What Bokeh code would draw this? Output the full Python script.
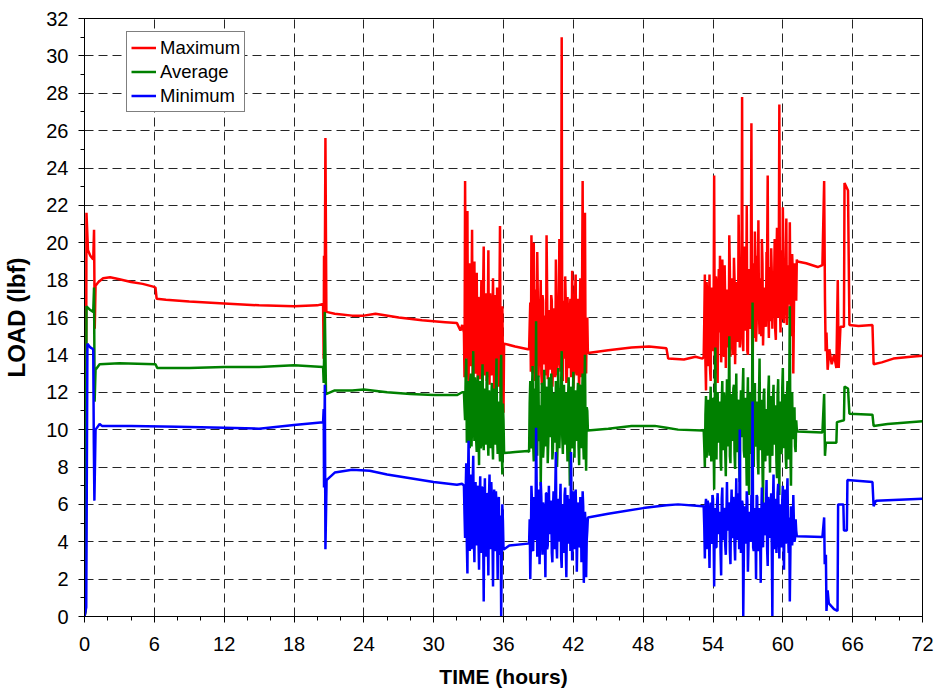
import numpy as np
from bokeh.plotting import figure
from bokeh.models import Range1d, FixedTicker
from bokeh.embed import file_html
from bokeh.resources import INLINE

# ---------------- data (hours, lbf) ----------------
TIME_TICKS = list(range(0, 73, 6))
TIME_MINOR = list(range(0, 73, 2))
LOAD_TICKS = list(range(0, 33, 2))
LOAD_MINOR = list(range(0, 33, 1))

# steady (slowly varying) parts of each record
max_steady_t = [0.0, 0.1, 0.17, 0.3, 0.5, 0.75, 0.82, 0.88, 0.95, 1.2, 1.6, 2.2, 3.0, 4.0, 5.0, 5.9, 6.1, 6.2, 7.0, 9.0,
                12.0, 15.0, 18.0, 20.0, 20.5, 20.55, 20.58, 20.62, 20.7, 20.78, 21.5, 23.0, 24.0, 25.0, 27.0, 29.0,
                31.0, 32.0, 32.3, 32.45,
                36.05, 37.0, 38.1,
                43.25, 45.0, 47.0, 48.5, 50.0, 50.15, 51.5, 52.5, 53.1,
                61.25, 62.0, 63.0, 63.4, 63.55, 63.62, 63.68, 63.75, 63.85, 64.0, 64.2, 64.4, 64.6, 64.72, 64.8,
                64.95, 65.25, 65.3, 65.6, 65.72, 66.5, 67.7, 67.8, 68.5, 69.5, 71.0, 72.0]
max_steady_v = [0.0, 0.4, 21.6, 19.6, 19.3, 19.1, 20.7, 15.4, 17.7, 17.9, 18.1, 18.15, 18.05, 17.9, 17.8, 17.65, 17.6,
                17.0, 16.95, 16.85, 16.75, 16.65, 16.6, 16.65, 16.72, 13.8, 19.3, 14.5, 25.6, 16.3, 16.2, 16.1, 16.1,
                16.2, 16.0, 15.85, 15.75, 15.7, 15.3, 15.6,
                14.6, 14.45, 14.3,
                14.1, 14.25, 14.4, 14.45, 14.35, 13.8, 13.75, 13.9, 13.8,
                19.0, 18.9, 18.7, 18.8, 23.3, 17.0, 14.2, 15.2, 13.2, 14.3, 13.5, 14.0, 13.3, 18.0, 13.3,
                15.5, 15.5, 23.2, 22.8, 15.6, 15.55, 15.6, 13.5, 13.6, 13.8, 13.9, 13.95]

avg_steady_t = [0.0, 0.1, 0.17, 0.5, 0.75, 0.82, 0.87, 0.95, 1.3, 3.0, 6.1, 6.25, 9.0, 12.0, 15.0, 18.0, 20.5,
                20.55, 20.65, 20.75, 21.5, 23.0, 24.0, 26.0, 28.0, 30.0, 32.0, 32.45,
                36.05, 37.0, 38.1,
                43.25, 45.0, 47.0, 49.0, 50.0, 51.0, 53.1,
                61.25, 63.4, 63.55, 63.62, 63.7, 64.6, 64.65, 65.25, 65.3, 65.6, 65.72, 67.7, 67.8, 69.0, 72.0]
avg_steady_v = [0.0, 0.3, 16.6, 16.4, 16.3, 17.6, 11.5, 13.2, 13.5, 13.55, 13.5, 13.3, 13.3, 13.35, 13.35, 13.45,
                13.35, 12.5, 16.3, 11.9, 12.1, 12.1, 12.15, 12.0, 11.9, 11.85, 11.85, 12.0,
                8.75, 8.8, 8.85,
                9.95, 10.05, 10.2, 10.2, 10.1, 10.0, 9.95,
                9.9, 9.85, 11.9, 8.6, 9.3, 9.3, 10.4, 10.5, 12.3, 12.2, 10.85, 10.8, 10.2, 10.3, 10.45]

min_steady_t = [0.0, 0.15, 0.25, 0.5, 0.75, 0.8, 0.85, 0.95, 1.3, 1.5, 4.0, 8.0, 12.0, 15.0, 18.0, 20.5, 20.55,
                20.58, 20.65, 20.7, 20.8, 21.5, 23.0, 24.5, 26.0, 28.0, 30.0, 32.0, 32.45,
                36.05, 36.5, 38.1,
                43.25, 45.0, 48.0, 50.0, 51.0, 53.1,
                61.25, 63.4, 63.55, 63.6, 63.7, 63.75, 63.85, 63.95, 64.4, 64.7, 64.75, 65.2, 65.25, 65.5, 65.55,
                67.7, 67.8, 68.0, 70.0, 72.0]
min_steady_v = [0.0, 0.5, 14.6, 14.4, 14.3, 9.3, 6.2, 10.0, 10.3, 10.2, 10.2, 10.15, 10.1, 10.05, 10.25, 10.4, 11.1,
                6.9, 12.4, 3.6, 7.3, 7.7, 7.85, 7.8, 7.6, 7.4, 7.2, 7.05, 7.1,
                3.6, 3.8, 3.9,
                5.3, 5.5, 5.8, 5.95, 6.0, 5.9,
                4.3, 4.25, 5.3, 2.8, 3.3, 0.3, 1.4, 0.7, 0.4, 0.3, 6.0, 6.0, 4.6, 4.6, 7.3,
                7.2, 5.9, 6.2, 6.25, 6.3]

# oscillating test phases: samples every 0.1 h ("a" series) plus the
# in-between samples ("b" series, offset by 0.05 h)
NOISE_STEP = 0.1
NOISE_START_A = [32.6, 38.2, 53.2]
NOISE_START_B = [32.65, 38.25, 53.25]

max_noise_1a = [15.2, 23.3, 13.8, 21.7, 12.6, 18.9, 13.4, 20.7, 12.2, 19.0, 13.0, 18.4, 12.5, 16.8, 13.6, 18.0, 12.1,
                19.8, 12.9, 17.3, 13.3, 19.6, 12.4, 16.5, 13.1, 18.1, 12.0, 17.2, 13.4, 16.4, 12.3, 20.9, 11.8, 16.6,
                10.9]
max_noise_1b = [12.8, 16.9, 17.4, 13.1, 16.2, 13.9, 17.0, 12.9, 17.8, 13.3, 16.5, 13.8, 17.1, 12.7, 16.0, 14.0, 17.5,
                13.2, 16.8, 12.6, 15.9, 13.7, 17.3, 12.9, 16.2, 14.1, 15.8, 12.8, 17.6, 13.5, 16.9, 12.4, 15.5, 13.6]
avg_noise_1a = [12.0, 10.5, 13.8, 9.6, 12.6, 9.0, 13.0, 10.2, 14.2, 9.4, 12.4, 8.8, 12.9, 8.1, 11.8, 9.3, 13.5, 8.9,
                12.2, 9.7, 13.1, 8.6, 11.6, 9.0, 12.5, 8.4, 11.9, 9.2, 13.8, 8.7, 11.3, 8.3, 14.0, 7.6, 10.5]
avg_noise_1b = [11.2, 12.9, 9.3, 12.4, 10.0, 12.7, 9.1, 12.0, 10.4, 12.8, 9.5, 11.9, 9.8, 12.6, 9.0, 12.3, 10.1, 11.7,
                9.2, 12.5, 9.6, 12.1, 9.9, 11.6, 9.3, 12.2, 9.4, 12.0, 9.7, 11.5, 9.1, 12.4, 9.0, 11.4]
min_noise_1a = [7.0, 4.2, 8.2, 2.3, 9.4, 3.5, 7.6, 4.0, 8.6, 2.9, 7.2, 4.4, 6.8, 2.5, 7.5, 3.8, 6.9, 0.8, 7.4, 3.2,
                6.5, 2.2, 7.6, 3.6, 6.2, 1.6, 6.8, 3.9, 5.9, 2.0, 6.4, 3.3, 0.0, 6.0, 3.6]
min_noise_1b = [5.5, 6.7, 3.9, 7.3, 4.8, 6.5, 3.6, 7.1, 4.5, 6.4, 3.8, 7.0, 4.1, 6.2, 3.4, 6.9, 4.6, 5.8, 3.7, 6.6,
                4.2, 6.3, 3.9, 7.2, 4.4, 5.9, 3.5, 6.7, 4.3, 6.1, 3.6, 5.4, 3.2, 5.1]

max_noise_2a = [14.3, 16.8, 20.4, 13.0, 20.0, 12.6, 17.5, 19.5, 12.8, 16.2, 18.0, 12.4, 16.9, 13.5, 15.8, 20.4, 12.7,
                16.4, 13.2, 17.2, 12.3, 16.0, 13.6, 19.1, 12.9, 16.6, 20.2, 13.1, 31.0, 12.6, 16.9, 18.2, 12.5, 17.1,
                13.3, 16.4, 12.8, 18.5, 12.2, 16.7, 18.3, 12.9, 17.0, 12.0, 18.1, 13.4, 23.3, 12.6, 21.6, 13.0, 16.0]
max_noise_2b = [15.6, 13.1, 17.3, 13.8, 16.6, 14.2, 13.4, 17.0, 13.9, 16.4, 13.0, 17.2, 13.6, 16.1, 12.9, 17.4, 13.3,
                16.0, 14.0, 16.9, 13.2, 16.5, 12.8, 17.1, 13.7, 15.9, 13.5, 17.6, 13.0, 16.3, 13.8, 16.8, 12.7, 15.7,
                13.4, 17.0, 13.9, 16.2, 12.9, 17.3, 13.1, 16.4, 13.6, 16.0, 12.8, 17.5, 13.3, 16.6, 13.9, 15.8]
avg_noise_2a = [8.8, 12.6, 9.0, 13.4, 8.3, 12.2, 15.8, 8.6, 12.9, 9.4, 7.0, 12.5, 8.5, 13.2, 9.1, 11.8, 8.2, 12.8,
                9.6, 13.0, 8.4, 11.9, 9.3, 12.6, 8.0, 13.3, 9.0, 12.1, 14.2, 8.7, 12.4, 9.5, 11.6, 8.3, 12.8, 7.0,
                12.0, 9.2, 13.1, 8.5, 11.7, 9.4, 12.5, 8.1, 12.2, 9.0, 13.0, 8.4, 14.0, 7.8, 11.0]
avg_noise_2b = [11.4, 9.6, 12.1, 9.2, 11.7, 9.9, 10.3, 12.2, 9.5, 11.3, 9.8, 12.4, 9.1, 11.8, 10.0, 12.3, 9.4, 11.5,
                10.2, 12.0, 9.0, 11.9, 9.7, 12.5, 9.3, 11.6, 10.1, 12.2, 9.6, 11.1, 9.2, 12.0, 9.9, 11.7, 9.4, 12.3,
                9.0, 11.4, 10.0, 12.1, 9.5, 11.8, 9.1, 12.4, 9.8, 11.5, 9.3, 12.0, 9.6, 11.2]
min_noise_2a = [3.9, 2.0, 7.0, 3.6, 6.4, 4.1, 10.1, 3.2, 6.8, 2.8, 7.2, 4.3, 6.1, 3.5, 2.1, 6.6, 3.8, 7.0, 4.4, 5.9,
                2.9, 6.7, 3.6, 8.8, 3.1, 6.3, 4.0, 7.1, 2.6, 6.0, 3.4, 6.9, 2.1, 6.5, 3.9, 5.7, 8.8, 3.0, 6.2, 4.2,
                6.8, 2.4, 5.9, 3.7, 6.4, 2.9, 6.7, 1.8, 5.6, 2.1, 4.6]
min_noise_2b = [5.2, 4.0, 6.1, 3.5, 5.8, 4.4, 6.9, 3.8, 5.5, 4.6, 6.4, 3.3, 5.9, 4.2, 6.6, 3.6, 5.3, 4.8, 6.2, 3.4,
                5.7, 4.1, 6.8, 3.9, 5.4, 4.5, 6.0, 3.2, 5.6, 4.3, 6.5, 3.7, 5.1, 4.7, 6.3, 3.5, 5.8, 4.0, 6.7, 3.6,
                5.3, 4.4, 6.1, 3.8, 5.5, 4.2, 5.9, 3.3, 5.0, 4.1]

max_noise_3a = [13.9, 18.3, 12.1, 17.2, 13.4, 18.3, 12.6, 17.6, 14.2, 23.6, 13.0, 17.8, 12.5, 18.6, 19.3, 13.6, 19.1,
                14.1, 18.8, 13.3, 17.5, 14.6, 20.4, 13.9, 18.1, 14.8, 19.2, 13.5, 17.9, 15.0, 21.5, 14.4, 18.6, 27.8,
                14.2, 19.8, 15.3, 22.0, 14.0, 18.4, 15.6, 26.4, 12.1, 18.9, 20.6, 14.7, 19.3, 21.2, 15.1, 18.0, 20.2,
                14.5, 17.5, 15.8, 19.5, 23.6, 14.9, 18.7, 19.7, 15.4, 18.2, 20.2, 14.8, 20.8, 16.0, 27.4, 15.2, 19.6,
                21.9, 15.7, 19.0, 21.3, 16.2, 18.5, 21.1, 15.0, 19.4, 13.0, 18.9, 17.7, 19.1]
max_noise_3b = [15.8, 13.6, 17.9, 14.3, 16.5, 13.2, 17.4, 14.8, 16.0, 14.1, 18.2, 13.8, 17.0, 15.2, 16.4, 14.5, 17.7,
                13.9, 16.8, 15.0, 17.3, 14.4, 18.5, 15.3, 16.6, 14.0, 18.0, 15.6, 17.2, 14.7, 18.8, 15.1, 17.5, 14.6,
                18.3, 15.9, 17.0, 14.2, 18.6, 15.4, 17.8, 16.1, 17.1, 14.9, 18.7, 15.7, 17.4, 16.3, 18.1, 15.0, 18.9,
                16.0, 17.6, 15.5, 19.2, 16.4, 17.9, 15.8, 18.4, 16.6, 17.7, 15.3, 19.0, 16.2, 18.3, 16.8, 17.5, 15.9,
                19.3, 16.5, 18.0, 15.6, 18.8, 16.7, 17.2, 15.4, 18.5, 16.1, 17.8, 16.9]
avg_noise_3a = [10.0, 8.0, 11.8, 9.2, 11.6, 8.6, 12.3, 9.0, 11.0, 6.8, 14.4, 8.4, 12.0, 9.3, 11.5, 7.8, 12.6, 8.9,
                11.2, 7.5, 12.7, 9.1, 15.0, 8.2, 11.9, 9.4, 12.4, 7.9, 13.0, 8.8, 11.4, 7.2, 12.1, 9.6, 13.3, 8.5,
                11.7, 7.0, 12.8, 6.5, 11.9, 8.7, 16.8, 8.0, 12.5, 9.3, 11.1, 7.6, 13.8, 8.9, 11.6, 5.9, 12.2, 8.3,
                11.0, 9.5, 12.9, 7.7, 11.8, 8.6, 12.4, 9.2, 11.3, 7.4, 12.7, 6.5, 11.5, 8.8, 13.3, 9.0, 11.9, 7.9,
                12.6, 8.4, 16.6, 7.0, 12.0, 9.5, 11.2, 8.8, 10.0]
avg_noise_3b = [9.1, 10.8, 8.5, 11.4, 9.6, 10.9, 8.3, 11.7, 9.4, 11.1, 8.8, 11.9, 9.9, 10.6, 8.4, 11.5, 9.2, 12.0,
                8.9, 10.7, 9.7, 11.8, 8.6, 11.3, 9.5, 12.2, 8.7, 10.9, 9.3, 11.6, 8.2, 11.0, 9.8, 12.1, 8.9, 11.4,
                9.0, 11.2, 8.5, 11.9, 9.6, 10.8, 8.8, 12.3, 9.1, 11.5, 8.4, 11.7, 9.4, 10.9, 8.0, 11.8, 9.7, 11.1,
                8.6, 12.0, 9.3, 11.3, 8.9, 11.6, 9.5, 10.7, 8.3, 11.9, 9.0, 11.2, 8.7, 12.2, 9.8, 11.0, 8.5, 11.6,
                9.2, 12.1, 8.8, 11.4, 9.6, 10.9, 9.1, 10.5]
min_noise_3a = [5.9, 3.1, 6.3, 4.5, 5.6, 2.6, 6.1, 4.0, 6.3, 1.6, 5.8, 3.7, 6.6, 4.4, 5.5, 2.2, 6.9, 4.1, 5.7, 3.3,
                7.2, 4.6, 6.0, 2.8, 6.8, 4.2, 5.4, 3.0, 7.4, 4.5, 5.9, 10.0, 3.4, 6.2, 0.0, 5.3, 3.9, 6.7, 2.4, 5.6,
                4.3, 6.5, 11.5, 3.5, 5.8, 2.0, 6.4, 4.6, 5.5, 1.8, 6.9, 3.7, 5.7, 4.4, 7.3, 2.7, 6.1, 4.2, 6.6, 0.0,
                7.6, 3.6, 6.3, 4.8, 7.1, 3.1, 6.0, 4.5, 7.0, 2.5, 6.8, 4.1, 7.4, 3.4, 0.8, 5.9, 3.8, 6.5, 4.0, 5.2,
                4.3]
min_noise_3b = [4.8, 5.9, 3.6, 6.2, 4.3, 5.4, 3.9, 6.5, 4.6, 5.1, 3.7, 6.0, 4.9, 5.6, 3.4, 6.3, 4.2, 5.8, 3.8, 5.2,
                4.7, 6.1, 3.5, 5.7, 4.4, 6.4, 3.9, 5.3, 4.1, 6.6, 3.6, 5.5, 4.8, 6.0, 3.3, 5.9, 4.5, 6.2, 3.8, 5.1,
                4.0, 6.3, 3.7, 5.6, 4.6, 6.5, 3.5, 5.8, 4.2, 5.4, 3.9, 6.1, 4.4, 5.7, 3.6, 6.4, 4.7, 5.2, 3.8, 6.0,
                4.3, 5.9, 3.4, 6.6, 4.5, 5.5, 3.7, 6.2, 4.1, 5.8, 3.9, 6.3, 4.6, 5.3, 3.5, 5.6, 4.4, 5.0, 4.2, 4.6]


def build(steady_t, steady_v, noise_a, noise_b):
    ts = [np.asarray(steady_t, dtype=float)]
    vs = [np.asarray(steady_v, dtype=float)]
    for starts, lists in ((NOISE_START_A, noise_a), (NOISE_START_B, noise_b)):
        for start, vals in zip(starts, lists):
            ts.append(start + NOISE_STEP * np.arange(len(vals)))
            vs.append(np.asarray(vals, dtype=float))
    t = np.concatenate(ts)
    v = np.concatenate(vs)
    order = np.argsort(t, kind="stable")
    return t[order], v[order]


t_max, v_max = build(max_steady_t, max_steady_v,
                     [max_noise_1a, max_noise_2a, max_noise_3a], [max_noise_1b, max_noise_2b, max_noise_3b])
t_avg, v_avg = build(avg_steady_t, avg_steady_v,
                     [avg_noise_1a, avg_noise_2a, avg_noise_3a], [avg_noise_1b, avg_noise_2b, avg_noise_3b])
t_min, v_min = build(min_steady_t, min_steady_v,
                     [min_noise_1a, min_noise_2a, min_noise_3a], [min_noise_1b, min_noise_2b, min_noise_3b])

# ---------------- figure ----------------
FONT = "Liberation Sans"

p = figure(width=934, height=691, output_backend="svg", toolbar_location=None,
           x_range=Range1d(0, 72), y_range=Range1d(0, 32),
           min_border_left=84, min_border_right=12, min_border_top=18, min_border_bottom=75,
           background_fill_color="white", border_fill_color="white")

p.outline_line_color = "black"
p.outline_line_width = 1
p.outline_line_alpha = 1

p.xaxis.ticker = FixedTicker(ticks=TIME_TICKS, minor_ticks=TIME_MINOR)
p.yaxis.ticker = FixedTicker(ticks=LOAD_TICKS, minor_ticks=LOAD_MINOR)

for ax in (p.xaxis[0], p.yaxis[0]):
    ax.axis_line_color = "black"
    ax.major_tick_line_color = "black"
    ax.minor_tick_line_color = "black"
    ax.major_tick_out = 6
    ax.major_tick_in = 0
    ax.minor_tick_out = 4
    ax.minor_tick_in = 0
    ax.major_label_text_font = FONT
    ax.major_label_text_font_size = "20px"
    ax.major_label_text_color = "black"
    ax.axis_label_text_font = FONT
    ax.axis_label_text_font_style = "bold"
    ax.axis_label_text_color = "black"

p.xaxis.axis_label = "TIME (hours)"
p.yaxis.axis_label = "LOAD (lbf)"
p.xaxis.axis_label_text_font_size = "21px"
p.yaxis.axis_label_text_font_size = "24px"
p.xaxis.major_label_standoff = 14
p.yaxis.major_label_standoff = 10
p.xaxis.axis_label_standoff = 11
p.yaxis.axis_label_standoff = 13

for g in (p.xgrid[0], p.ygrid[0]):
    g.grid_line_color = "black"
    g.grid_line_alpha = 0.85
    g.grid_line_width = 1
    g.grid_line_dash = "9 5"

r_max = p.line(t_max, v_max, line_color="#ff0000", line_width=2.5, legend_label="Maximum")
r_avg = p.line(t_avg, v_avg, line_color="#008000", line_width=2.5, legend_label="Average")
r_min = p.line(t_min, v_min, line_color="#0000ff", line_width=2.5, legend_label="Minimum")

lg = p.legend[0]
lg.location = (42, 504)
lg.border_line_color = "black"
lg.border_line_width = 1
lg.background_fill_color = "white"
lg.background_fill_alpha = 1
lg.padding = 4
lg.spacing = 1
lg.margin = 0
lg.glyph_width = 25
lg.glyph_height = 23
lg.label_height = 23
lg.label_standoff = 4
lg.label_text_font = FONT
lg.label_text_font_size = "18.5px"
lg.label_text_color = "black"

open("out.html", "w").write(file_html(p, INLINE))
